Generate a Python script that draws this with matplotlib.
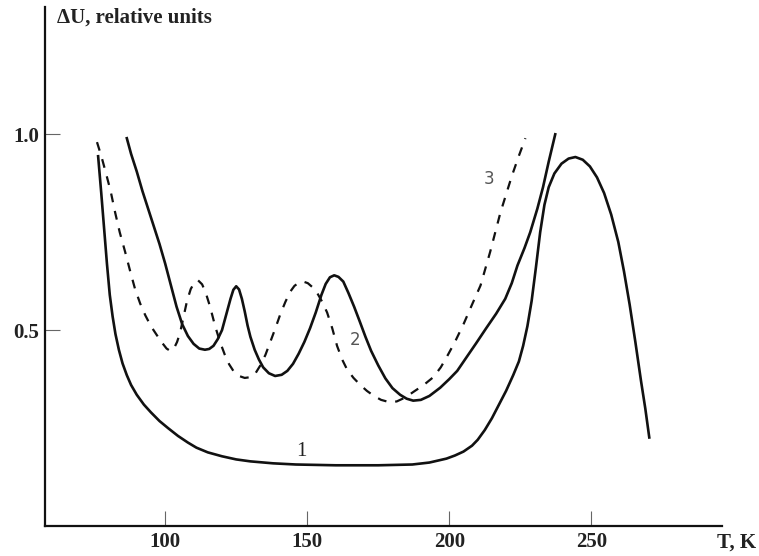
import matplotlib
matplotlib.use('Agg')
from matplotlib import pyplot as plt

# curve 1 (solid, lower)
t1 = [76.4, 77.5, 78.5, 79.5, 80.5, 81.5, 82.5, 83.7, 85.0, 86.5, 88.0, 90.0, 92.5,
      95.0, 98.0, 101.0, 104.5, 108.0, 111.0, 115.0, 120.0, 125.0, 130.0, 138.0,
      146.0, 160.0, 175.0, 187.0, 193.0, 199.0, 202.0, 205.0, 208.0, 210.0, 212.5,
      215.0, 217.5, 220.0, 222.5, 224.5, 226.0, 227.5, 229.0, 230.5, 232.0, 233.5,
      235.0, 237.0, 239.5, 242.0, 244.4, 247.0, 249.5, 252.0, 254.5, 257.0, 259.5,
      261.5, 263.5, 265.5, 267.5, 269.0, 270.4]
u1 = [0.944, 0.85, 0.76, 0.67, 0.59, 0.535, 0.49, 0.45, 0.415, 0.385, 0.36, 0.335, 0.31,
      0.29, 0.268, 0.25, 0.23, 0.213, 0.20, 0.188, 0.178, 0.17, 0.165, 0.16,
      0.157, 0.155, 0.155, 0.157, 0.162, 0.172, 0.18, 0.19, 0.205, 0.22, 0.245,
      0.275, 0.31, 0.345, 0.385, 0.42, 0.46, 0.51, 0.575, 0.66, 0.75, 0.82,
      0.865, 0.90, 0.925, 0.938, 0.942, 0.935, 0.918, 0.89, 0.85, 0.795, 0.725,
      0.65, 0.565, 0.47, 0.37, 0.30, 0.226]

# curve 2 (solid, upper)
t2 = [86.5, 88.0, 90.0, 92.0, 94.0, 96.0, 98.0, 100.0, 102.0, 104.0, 106.0, 108.0,
      110.0, 112.0, 114.0, 115.5, 117.0, 118.5, 120.0, 121.5, 123.0, 124.0, 125.0,
      126.0, 127.0, 128.0, 129.0, 130.0, 131.5, 133.0, 134.5, 136.5, 138.7, 141.0,
      143.0, 145.0, 147.0, 149.0, 151.0, 153.0, 155.0, 156.5, 158.0, 159.5, 161.0,
      162.7, 164.5, 166.5, 168.5, 170.5, 172.5, 175.0, 177.5, 180.0, 182.7, 185.0,
      187.3, 190.0, 193.0, 196.8, 200.0, 202.8, 206.0, 209.5, 213.0, 216.5, 219.7,
      222.0, 224.0, 226.5, 228.5, 231.0, 233.0, 235.0, 237.3]
u2 = [0.99, 0.95, 0.905, 0.855, 0.81, 0.765, 0.72, 0.67, 0.615, 0.56, 0.515, 0.485,
      0.465, 0.453, 0.45, 0.452, 0.46, 0.477, 0.50, 0.54, 0.58, 0.603, 0.612,
      0.604, 0.58, 0.548, 0.512, 0.483, 0.45, 0.425, 0.405, 0.39, 0.383, 0.386,
      0.396, 0.414, 0.44, 0.47, 0.505, 0.545, 0.59, 0.618, 0.635, 0.64, 0.636,
      0.624, 0.595, 0.56, 0.522, 0.483, 0.447, 0.41, 0.377, 0.352, 0.335, 0.325,
      0.32, 0.322, 0.332, 0.353, 0.375, 0.396, 0.43, 0.467, 0.505, 0.542, 0.58,
      0.62, 0.665, 0.71, 0.75, 0.81, 0.865, 0.93, 1.0]

# curve 3 (dashed)
t3 = [76.0, 77.5, 79.0, 80.8, 82.4, 84.0, 85.9, 87.7, 89.4, 91.2, 93.0, 95.0, 97.0,
      99.0, 100.5, 101.8, 103.0, 104.2, 105.3, 106.5, 107.7, 109.0, 110.3, 111.6,
      113.0, 114.3, 115.8, 117.6, 119.3, 121.0, 122.5, 124.0, 126.0, 128.0, 130.0,
      131.8, 133.5, 135.3, 137.0, 138.8, 140.5, 142.3, 144.0, 145.5, 147.0, 148.6,
      150.2, 151.8, 153.5, 155.3, 157.0, 158.8, 160.5, 162.3, 164.0, 166.3, 168.7,
      171.0, 173.5, 176.0, 179.0, 181.5, 184.5, 187.3, 191.0, 194.4, 197.0, 199.0,
      202.0, 205.0, 208.0, 211.0, 214.4, 218.0, 222.0, 224.5, 226.8]
u3 = [0.98, 0.945, 0.905, 0.855, 0.80, 0.75, 0.70, 0.65, 0.605, 0.568, 0.538, 0.51, 0.488,
      0.467, 0.453, 0.447, 0.452, 0.47, 0.495, 0.535, 0.575, 0.605, 0.622, 0.627,
      0.617, 0.595, 0.56, 0.51, 0.47, 0.437, 0.413, 0.396, 0.383, 0.378, 0.38,
      0.39, 0.41, 0.437, 0.47, 0.505, 0.54, 0.572, 0.598, 0.613, 0.621, 0.624,
      0.62, 0.61, 0.595, 0.572, 0.545, 0.505, 0.46, 0.425, 0.40, 0.378, 0.36,
      0.345, 0.332, 0.322, 0.316, 0.318, 0.328, 0.342, 0.36, 0.38, 0.405, 0.43,
      0.47, 0.515, 0.565, 0.614, 0.70, 0.80, 0.893, 0.945, 0.99]

x_ticks = [100, 150, 200, 250]
y_ticks = [0.5, 1.0]

serif = 'Liberation Serif'

fig = plt.figure(figsize=(7.59, 5.56), dpi=100)
ax = fig.add_axes([45 / 759, 1 - 526 / 556, (722 - 45) / 759, (526 - 7) / 556])

ink = '#111111'
ax.plot(t1, u1, color=ink, lw=1.9, solid_joinstyle='round')
ax.plot(t2, u2, color=ink, lw=1.9, solid_joinstyle='round')
ax.plot(t3, u3, color=ink, lw=1.6, linestyle=(0, (4, 4)))

ax.set_xlim(57.7, 296.0)
ax.set_ylim(0.0, 1.325)

for s in ['top', 'right']:
    ax.spines[s].set_visible(False)
for s in ['left', 'bottom']:
    ax.spines[s].set_linewidth(1.6)
    ax.spines[s].set_color(ink)

ax.set_xticks(x_ticks)
ax.set_xticklabels([str(v) for v in x_ticks])
ax.set_yticks(y_ticks)
ax.set_yticklabels(['%.1f' % v for v in y_ticks])
ax.tick_params(axis='both', direction='in', length=11, width=0.8, color='#666666',
               labelsize=15, pad=4)
for lab in ax.get_xticklabels() + ax.get_yticklabels():
    lab.set_family(serif)
    lab.set_fontweight('bold')
    lab.set_color('#222222')

fig.text(57 / 759, 1 - 18 / 556, '\u0394U, relative units', family=serif, fontweight='bold',
         fontsize=15, color='#222222', ha='left', va='center')
fig.text(717 / 759, 1 - 543 / 556, 'T, K', family=serif, fontweight='bold',
         fontsize=15, color='#222222', ha='left', va='center')

ax.text(148, 0.19, '1', family=serif, fontsize=15, color='#222222', ha='center', va='center')
ax.text(167, 0.475, '2', family='DejaVu Sans', fontsize=12, color='#555555', ha='center', va='center')
ax.text(214, 0.886, '3', family='DejaVu Sans', fontsize=12, color='#555555', ha='center', va='center')

fig.savefig('out.png', dpi=100)
